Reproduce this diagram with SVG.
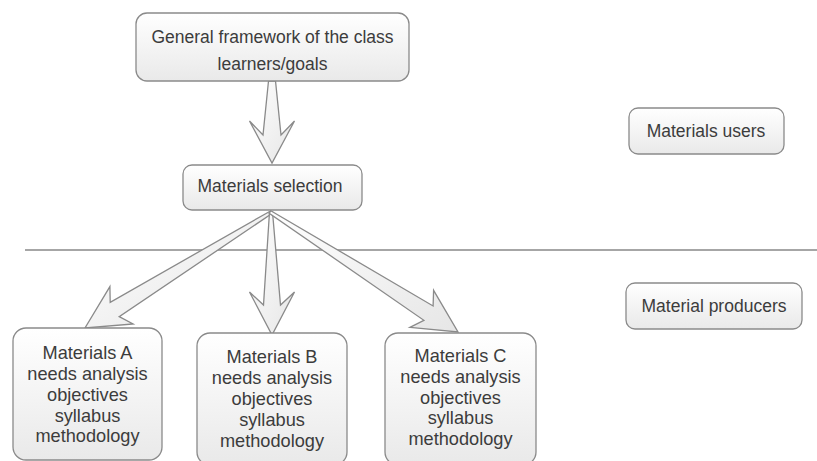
<svg xmlns="http://www.w3.org/2000/svg" width="817" height="461" viewBox="0 0 817 461">
  <defs>
    <linearGradient id="boxFill" x1="0" y1="0" x2="0" y2="1">
      <stop offset="0" stop-color="#ffffff"/>
      <stop offset="1" stop-color="#e9e9e9"/>
    </linearGradient>
    <linearGradient id="arrowFill" x1="0" y1="0" x2="1" y2="1">
      <stop offset="0" stop-color="#ffffff"/>
      <stop offset="1" stop-color="#e6e6e6"/>
    </linearGradient>
  </defs>
  <style>
    .box { fill: url(#boxFill); stroke: #8a8a8a; stroke-width: 1.3; }
    .lbl { font-family: "Liberation Sans", Arial, sans-serif; font-size: 17.5px; fill: #3c3c3c; text-anchor: middle; }
    .big { font-size: 18.2px; }
    .arrow { fill: url(#arrowFill); stroke: #8a8a8a; stroke-width: 1.3; stroke-linejoin: miter; }
    .divider { stroke: #888888; stroke-width: 1.3; }
  </style>
  <rect width="817" height="461" fill="#ffffff"/>

  <line class="divider" x1="25" y1="250" x2="817" y2="250"/>

  <g id="connectors">
    <polygon class="arrow" points="268.5,81 263,135 249.5,121 272,163 294.5,121 281,135 275.5,81"/>
    <polygon class="arrow" points="269.2,211.7 110.2,302.3 109.9,286.6 85,328 133.1,324 119.2,316.7 270.8,214.3"/>
    <polygon class="arrow" points="269.5,212 263.5,305 249.5,292 272,335 294.5,292 280.5,305 272.5,212"/>
    <polygon class="arrow" points="270.8,210.7 433.1,306 433.6,290.3 458,332 409.9,327.4 423.9,320.3 269.2,213.3"/>
  </g>

  <g id="node-framework">
    <rect class="box" x="136" y="13" width="273" height="68" rx="11"/>
    <text class="lbl" x="272.5" y="43">General framework of the class</text>
    <text class="lbl" x="272.5" y="70">learners/goals</text>
  </g>

  <g id="node-selection">
    <rect class="box" x="183" y="165" width="179" height="45" rx="9"/>
    <text class="lbl" x="270" y="192">Materials selection</text>
  </g>

  <g id="node-users">
    <rect class="box" x="629" y="108" width="155" height="46" rx="9"/>
    <text class="lbl" x="706" y="137">Materials users</text>
  </g>

  <g id="node-producers">
    <rect class="box" x="626" y="283" width="176" height="46" rx="9"/>
    <text class="lbl" x="714" y="312">Material producers</text>
  </g>

  <g id="node-materials-a">
    <rect class="box" x="13" y="328" width="149" height="132" rx="13"/>
    <text class="lbl big" x="87.5" y="359">Materials A</text>
    <text class="lbl big" x="87.5" y="380">needs analysis</text>
    <text class="lbl big" x="87.5" y="401">objectives</text>
    <text class="lbl big" x="87.5" y="421.5">syllabus</text>
    <text class="lbl big" x="87.5" y="442">methodology</text>
  </g>

  <g id="node-materials-b">
    <rect class="box" x="197" y="333" width="150" height="132" rx="13"/>
    <text class="lbl big" x="272" y="363">Materials B</text>
    <text class="lbl big" x="272" y="384">needs analysis</text>
    <text class="lbl big" x="272" y="405">objectives</text>
    <text class="lbl big" x="272" y="426">syllabus</text>
    <text class="lbl big" x="272" y="447">methodology</text>
  </g>

  <g id="node-materials-c">
    <rect class="box" x="385" y="333" width="151" height="132" rx="13"/>
    <text class="lbl big" x="460.5" y="362">Materials C</text>
    <text class="lbl big" x="460.5" y="383">needs analysis</text>
    <text class="lbl big" x="460.5" y="404">objectives</text>
    <text class="lbl big" x="460.5" y="424">syllabus</text>
    <text class="lbl big" x="460.5" y="445">methodology</text>
  </g>
</svg>
